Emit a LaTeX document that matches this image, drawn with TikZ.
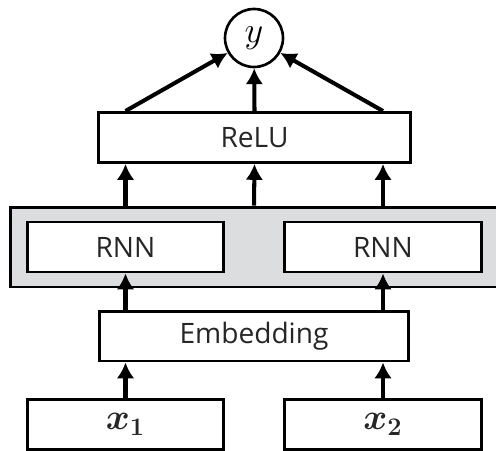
\documentclass[tikz,border=0pt]{standalone}
\usepackage{fontspec}
\usepackage{bm}
\setmainfont{Open Sans}
\usetikzlibrary{positioning,arrows.meta,calc}
\tikzset{>={Latex[length=9pt,width=10pt]}}
\definecolor{layergray}{RGB}{219,221,223}

\begin{document}
\begin{tikzpicture}[x=0.02cm, y=0.02cm,
    block/.style = {draw, line width=1.7pt, rectangle, minimum height=1cm, inner sep=0pt, font=\fontsize{16}{19}\selectfont, text=black!85},
    unit/.style = {block, minimum width=3.94cm},
    wide/.style = {block, minimum width=6.25cm},
    link/.style = {->, line width=2.3pt}]
        \useasboundingbox (0,0) rectangle (496,450);
        \node[draw, line width=1.7pt, fill=layergray, minimum width=9.76cm, minimum height=1.6cm] (rnnlayer) at (254,203) {}; %gray layer
        \node[draw, circle, line width=1.5pt, minimum size=1.16cm, inner sep=0pt, font=\fontsize{21}{24}\selectfont] (y) at (254,412) {$y$};
        \node[wide] (relu) at (254.5,312.5) {ReLU};
        \node[unit, fill=white] (rnn1) at (125.5,203) {RNN};
        \node[unit, fill=white] (rnn2) at (383,203) {RNN};
        \node[wide, minimum width=6.2cm] (emb) at (254,114) {Embedding};
        \node[unit, font=\fontsize{20}{24}\selectfont] (x1) at (125.5,25.5) {$\bm{x}_{\bm{1}}$};
        \node[unit, font=\fontsize{20}{24}\selectfont] (x2) at (383,25.5) {$\bm{x}_{\bm{2}}$};

        \draw[link] (x1.north) -- (x1 |- emb.south);
        \draw[link] (x2.north) -- (x2 |- emb.south);
        \draw[link] (rnn1 |- emb.north) -- (rnn1.south);
        \draw[link] (rnn2 |- emb.north) -- (rnn2.south);
        \draw[link] (rnn1 |- rnnlayer.north) -- (rnn1 |- relu.south);
        \draw[link] (rnnlayer.north) -- (relu.south);
        \draw[link] (rnn2 |- rnnlayer.north) -- (rnn2 |- relu.south);
        \draw[link] (rnn1 |- relu.north) -- (y);
        \draw[link] (relu.north) -- (y);
        \draw[link] (rnn2 |- relu.north) -- (y);
      \end{tikzpicture}
\end{document}
